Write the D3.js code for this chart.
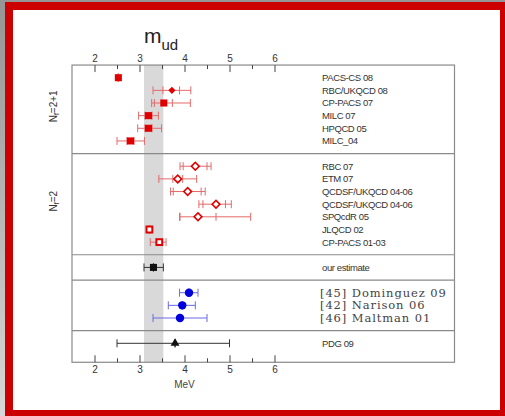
<!DOCTYPE html>
<html>
<head>
<meta charset="utf-8">
<script src="https://cdn.jsdelivr.net/npm/d3@7"></script>
<style>
body { margin: 0; }
svg { display: block; }
</style>
</head>
<body>
<div id="chart"></div>
<script>
// rows, top to bottom
var labels = ["PACS-CS 08", "RBC/UKQCD 08", "CP-PACS 07", "MILC 07", "HPQCD 05", "MILC_04",
  "RBC 07", "ETM 07", "QCDSF/UKQCD 04-06", "QCDSF/UKQCD 04-06", "SPQcdR 05", "JLQCD 02", "CP-PACS 01-03",
  "our estimate",
  "[45] Dominguez 09", "[42] Narison 06", "[46] Maltman 01",
  "PDG 09"];
var group = [0, 0, 0, 0, 0, 0, 1, 1, 1, 1, 1, 1, 1, 2, 3, 3, 3, 4];
var shape = ["sq", "dia", "sq", "sq", "sq", "sq",
  "odia", "odia", "odia", "odia", "odia", "osq", "osq",
  "sq", "circ", "circ", "circ", "tri"];
var central = [2.53, 3.72, 3.54, 3.2, 3.2, 2.8, 4.24, 3.85, 4.07, 4.7, 4.3, 3.22, 3.44, 3.31, 4.1, 3.95, 3.9, 3.79];
var innerLo = [2.53, 3.52, 3.33, 3.12, 3.12, 2.72, 3.97, 3.74, 3.75, 4.41, 3.9, 3.22, 3.38, 3.31, 4.1, 3.95, 3.9, 3.79];
var innerHi = [2.53, 3.89, 3.73, 3.28, 3.28, 2.88, 4.5, 3.96, 4.37, 4.91, 4.7, 3.22, 3.5, 3.31, 4.1, 3.95, 3.9, 3.79];
var outerLo = [2.53, 3.3, 3.27, 2.98, 2.96, 2.5, 3.9, 3.43, 3.69, 4.32, 3.89, 3.22, 3.24, 3.1, 3.89, 3.64, 3.3, 2.5];
var outerHi = [2.53, 4.14, 4.13, 3.42, 3.49, 3.11, 4.59, 4.27, 4.46, 5.04, 5.47, 3.22, 3.59, 3.53, 4.3, 4.24, 4.5, 5.0];
var groupNames = ["2+1", "2", "", "", ""];
var majorTicks = [2, 3, 4, 5, 6];
var minorTicks = [2.5, 3.5, 4.5, 5.5];
var band = [3.1, 3.53];

var w = 505, h = 416;
var markColor = ["#e00000", "#e00000", "#111", "#0000dd", "#111"];
var barColor = ["#e46a6a", "#e46a6a", "#333", "#6a6ae8", "#333"];

var svg = d3.select("#chart").append("svg").attr("width", w).attr("height", h);

// frame
var grad = svg.append("defs").append("linearGradient").attr("id", "bg")
  .attr("x1", 0).attr("y1", 0).attr("x2", 0).attr("y2", 1);
grad.append("stop").attr("offset", "0%").attr("stop-color", "#959595");
grad.append("stop").attr("offset", "100%").attr("stop-color", "#d8d8d8");
svg.append("rect").attr("width", w).attr("height", h).attr("fill", "url(#bg)");
svg.append("rect").attr("x", 5).attr("y", 2).attr("width", 500).attr("height", 414).attr("fill", "#cc0000");
svg.append("rect").attr("x", 13).attr("y", 10).attr("width", 487).attr("height", 400).attr("fill", "#fff");

var x = d3.scaleLinear().domain([1.5, 10]).range([72, 454.5]);
var y = d3.scaleLinear().domain([0, 21]).range([77.7, 343.3]);
var slot = labels.map(function (d, i) { return i + group[i]; });
var yTop = y(-1), yBottom = y(22.5);

// shaded band
svg.append("rect")
  .attr("x", x(band[0])).attr("width", x(band[1]) - x(band[0]))
  .attr("y", yTop).attr("height", yBottom - yTop)
  .attr("fill", "#d9d9d9");

// box and separators
svg.append("rect").attr("x", x(1.5)).attr("y", yTop)
  .attr("width", x(10) - x(1.5)).attr("height", yBottom - yTop)
  .attr("fill", "none").attr("stroke", "#8a8a8a").attr("stroke-width", 1.2);
var seps = [];
for (var g = 1; g < 5; g++) seps.push(slot[group.indexOf(g)] - 1);
svg.selectAll("line.sep").data(seps).enter().append("line")
  .attr("class", "sep")
  .attr("x1", x(1.5)).attr("x2", x(10))
  .attr("y1", function (d) { return y(d); }).attr("y2", function (d) { return y(d); })
  .attr("stroke", "#8a8a8a").attr("stroke-width", 1.2);

// axes
function styleAxis(sel) {
  sel.select(".domain").remove();
  sel.selectAll("line").attr("stroke", "#444");
  sel.selectAll("text").attr("fill", "#333").attr("font-size", "10px")
    .attr("font-family", "Liberation Sans, Arial, sans-serif");
}
svg.append("g").attr("transform", "translate(0," + yBottom + ")")
  .call(d3.axisBottom(x).tickValues(majorTicks).tickSize(-7).tickPadding(4).tickFormat(d3.format("d")))
  .call(styleAxis);
svg.append("g").attr("transform", "translate(0," + yBottom + ")")
  .call(d3.axisBottom(x).tickValues(minorTicks).tickSize(-4).tickFormat(""))
  .call(styleAxis);
svg.append("g").attr("transform", "translate(0," + yTop + ")")
  .call(d3.axisTop(x).tickValues(majorTicks).tickSize(-7).tickPadding(3).tickFormat(d3.format("d")))
  .call(styleAxis);
svg.append("g").attr("transform", "translate(0," + yTop + ")")
  .call(d3.axisTop(x).tickValues(minorTicks).tickSize(-4).tickFormat(""))
  .call(styleAxis);

// title and unit
var title = svg.append("text").attr("x", 144).attr("y", 43)
  .attr("font-family", "Liberation Sans, Arial, sans-serif").attr("fill", "#222");
title.append("tspan").attr("font-size", "21px").text("m");
title.append("tspan").attr("font-size", "15px").attr("dy", 7).text("ud");
svg.append("text").attr("x", x(4)).attr("y", 388).attr("text-anchor", "middle")
  .attr("font-family", "Liberation Sans, Arial, sans-serif").attr("font-size", "10px")
  .attr("fill", "#444").text("MeV");

// group labels on the left
groupNames.forEach(function (name, g) {
  if (!name) return;
  var rows = slot.filter(function (s, i) { return group[i] === g; });
  var cy = y((rows[0] + rows[rows.length - 1]) / 2) - 3;
  var t = svg.append("text")
    .attr("transform", "translate(57," + cy + ") rotate(-90)")
    .attr("text-anchor", "middle")
    .attr("font-family", "Liberation Sans, Arial, sans-serif").attr("font-size", "10px")
    .attr("fill", "#333");
  t.append("tspan").text("N");
  t.append("tspan").attr("font-size", "7px").attr("dy", 2).text("f");
  t.append("tspan").attr("dy", -2).text("=" + name);
});

// error bars
var rows = labels.map(function (d, i) { return i; });
var bars = svg.selectAll("g.err").data(rows).enter().append("g").attr("class", "err")
  .attr("stroke", function (i) { return barColor[group[i]]; }).attr("stroke-width", 1);
bars.append("line")
  .attr("x1", function (i) { return x(outerLo[i]); }).attr("x2", function (i) { return x(outerHi[i]); })
  .attr("y1", function (i) { return y(slot[i]); }).attr("y2", function (i) { return y(slot[i]); });
bars.each(function (i) {
  var caps = [outerLo[i], outerHi[i], innerLo[i], innerHi[i]];
  d3.select(this).selectAll("line.cap").data(caps).enter().append("line")
    .attr("class", "cap")
    .attr("x1", function (v) { return x(v); }).attr("x2", function (v) { return x(v); })
    .attr("y1", y(slot[i]) - 4).attr("y2", y(slot[i]) + 4);
});

// markers
var sym = {
  sq: d3.symbol().type(d3.symbolSquare).size(50),
  dia: d3.symbol().type(d3.symbolSquare).size(26),
  odia: d3.symbol().type(d3.symbolSquare).size(30),
  osq: d3.symbol().type(d3.symbolSquare).size(34),
  circ: d3.symbol().type(d3.symbolCircle).size(56),
  tri: d3.symbol().type(d3.symbolTriangle).size(34)
};
svg.selectAll("path.mark").data(rows).enter().append("path")
  .attr("class", "mark")
  .attr("d", function (i) { return sym[shape[i]](); })
  .attr("transform", function (i) {
    var r = (shape[i] === "dia" || shape[i] === "odia") ? " rotate(45)" : "";
    return "translate(" + x(central[i]) + "," + y(slot[i]) + ")" + r;
  })
  .attr("fill", function (i) { return shape[i].charAt(0) === "o" ? "#fff" : markColor[group[i]]; })
  .attr("stroke", function (i) { return shape[i].charAt(0) === "o" ? markColor[group[i]] : "none"; })
  .attr("stroke-width", function (i) { return shape[i] === "osq" ? 2 : 1.6; });

// row labels
svg.selectAll("text.lab").data(rows).enter().append("text")
  .attr("class", "lab")
  .attr("x", function (i) { return group[i] === 3 ? 320 : 322; })
  .attr("y", function (i) { return y(slot[i]) + (group[i] === 3 ? 4 : 3.5); })
  .attr("font-family", function (i) { return group[i] === 3 ? "DejaVu Serif, serif" : "Liberation Sans, Arial, sans-serif"; })
  .attr("font-size", function (i) { return group[i] === 3 ? "11.5px" : "9.5px"; })
  .attr("letter-spacing", function (i) { return group[i] === 3 ? 0.9 : -0.4; })
  .attr("fill", function (i) { return group[i] === 3 ? "#444" : "#333"; })
  .text(function (i) { return labels[i]; });
</script>
</body>
</html>
